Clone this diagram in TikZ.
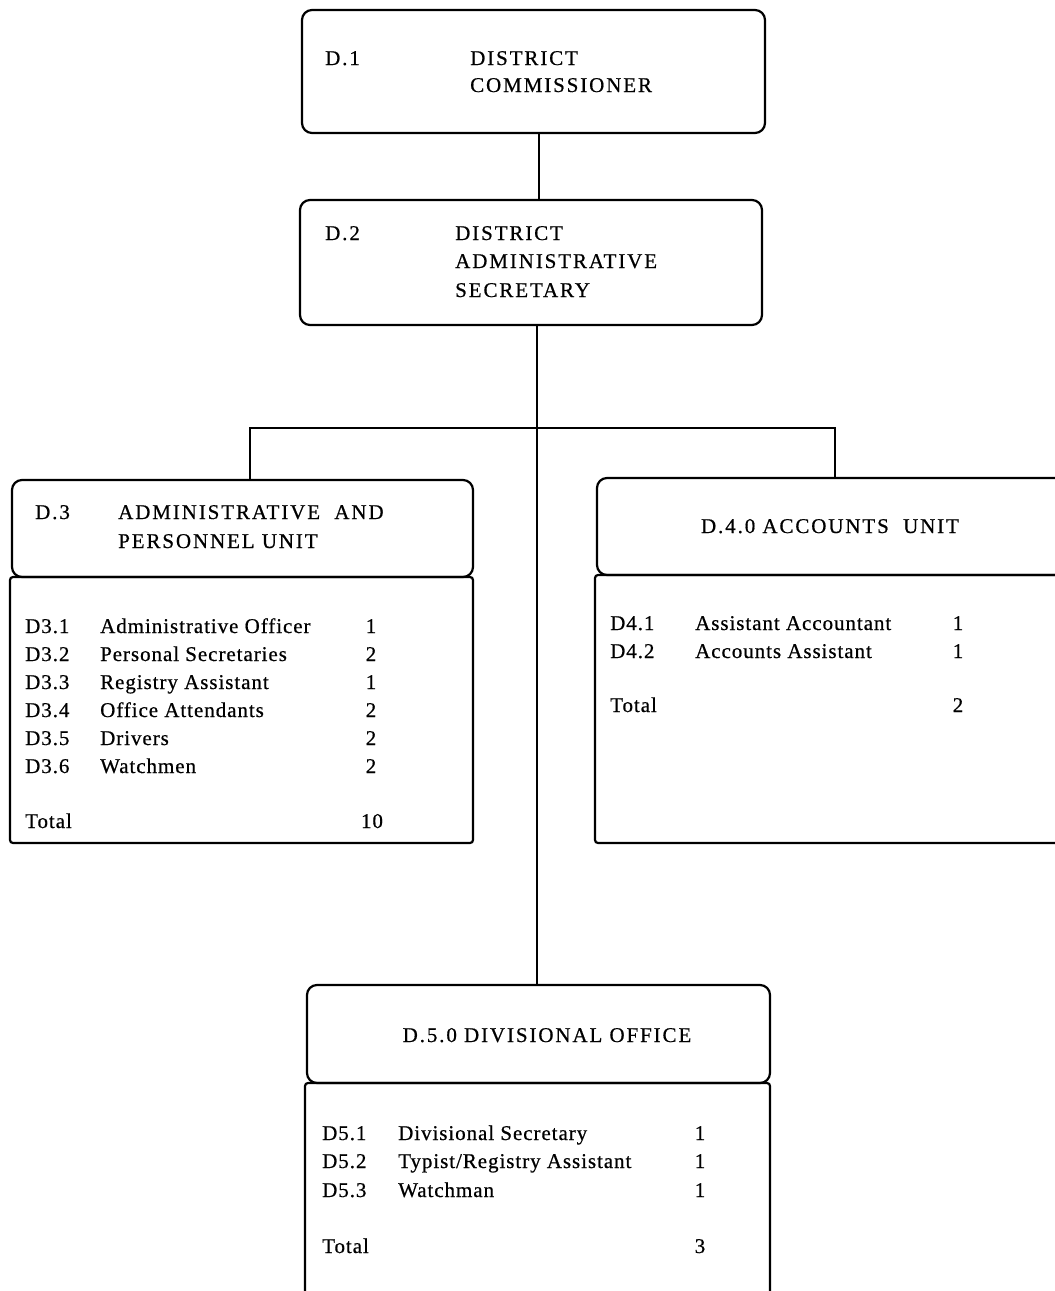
\documentclass[tikz,border=0pt]{standalone}
\usepackage{fontspec}
\setmainfont{Liberation Serif}
\newfontfamily\hdfont{Liberation Serif}[LetterSpace=9,FakeBold=0.6]
\newfontfamily\bdfont{Liberation Serif}[LetterSpace=4.5,FakeBold=0.6]
\tikzset{
  box/.style={draw, line width=2.2pt, rounded corners=10pt, inner sep=0pt},
  bodybox/.style={draw, line width=2.2pt, rounded corners=3pt, inner sep=0pt},
  conn/.style={line width=1.4pt},
  hd/.style={anchor=base west, inner sep=0pt, font=\hdfont\fontsize{21}{25}\selectfont},
  hdc/.style={anchor=base, inner sep=0pt, font=\hdfont\fontsize{21}{25}\selectfont},
  bd/.style={anchor=base west, inner sep=0pt, font=\bdfont\fontsize{21}{25}\selectfont},
  num/.style={anchor=base, inner sep=0pt, font=\bdfont\fontsize{21}{25}\selectfont}
}
\begin{document}
\begin{tikzpicture}[x=1pt,y=-1pt]
\useasboundingbox (0,0) rectangle (1055,1291);
\clip (0,0) rectangle (1055,1291);
% boxes
\node[box, minimum width=463pt, minimum height=123pt] (d1) at (533.5,71.5) {};
\node[box, minimum width=462pt, minimum height=125pt] (d2) at (531,262.5) {};
\node[box, minimum width=461pt, minimum height=97pt] (d3h) at (242.5,528.5) {};
\node[bodybox, minimum width=463pt, minimum height=266pt] (d3b) at (241.5,710) {};
\node[box, minimum width=478pt, minimum height=97pt] (d4h) at (836,526.5) {};
\node[bodybox, minimum width=480pt, minimum height=268pt] (d4b) at (835,709) {};
\node[box, minimum width=463pt, minimum height=98pt] (d5h) at (538.5,1034) {};
\node[bodybox, minimum width=465pt, minimum height=227pt] (d5b) at (537.5,1196.5) {};
% connectors
\coordinate (xa) at (539,0);
\coordinate (xm) at (537,0);
\coordinate (bl) at (250,428);
\coordinate (br) at (835,428);
\draw[conn] (d1.south -| xa) -- (d2.north -| xa);
\draw[conn] (d2.south -| xm) -- (d5h.north -| xm);
\draw[conn] (d3h.north -| bl) -- (bl) -- (br) -- (d4h.north -| br);
% D1 text
\node[hd] (t1a) at (325,65) {D.1};
\node[hd] (t1b) at (470,65) {DISTRICT};
\node[hd] (t1c) at (470,92) {COMMISSIONER};
% D2 text
\node[hd] (t2a) at (325,240) {D.2};
\node[hd] (t2b) at (455,240) {DISTRICT};
\node[hd] (t2c) at (455,268) {ADMINISTRATIVE};
\node[hd] (t2d) at (455,297) {SECRETARY};
% D3 header
\node[hd] (t3a) at (35,519) {D.3};
\node[hd] (t3b) at (118,519) {ADMINISTRATIVE\ \ AND};
\node[hd] (t3c) at (118,548) {PERSONNEL UNIT};
% D3 body
\foreach \c/\n/\v/\y [count=\i] in {D3.1/Administrative Officer/1/633, D3.2/Personal Secretaries/2/661, D3.3/Registry Assistant/1/689, D3.4/Office Attendants/2/717, D3.5/Drivers/2/745, D3.6/Watchmen/2/773}{
  \node[bd] (c3\i) at (25,\y) {\c};
  \node[bd] (n3\i) at (100,\y) {\n};
  \node[num] (v3\i) at (371,\y) {\v};
}
\node[bd] (t3tot) at (25,828) {Total};
\node[num] (t3totv) at (372,828) {10};
% D4
\node[hdc] (t4) at (830,533) {D.4.0 ACCOUNTS\ \ UNIT};
\node[bd] (c41) at (610,630) {D4.1};
\node[bd] (n41) at (695,630) {Assistant Accountant};
\node[num] (v41) at (958,630) {1};
\node[bd] (c42) at (610,658) {D4.2};
\node[bd] (n42) at (695,658) {Accounts Assistant};
\node[num] (v42) at (958,658) {1};
\node[bd] (t4tot) at (610,712) {Total};
\node[num] (t4totv) at (958,712) {2};
% D5
\node[hdc] (t5) at (547,1042) {D.5.0 DIVISIONAL OFFICE};
\node[bd] (c51) at (322,1140) {D5.1};
\node[bd] (n51) at (398,1140) {Divisional Secretary};
\node[num] (v51) at (700,1140) {1};
\node[bd] (c52) at (322,1168) {D5.2};
\node[bd] (n52) at (398,1168) {Typist/Registry Assistant};
\node[num] (v52) at (700,1168) {1};
\node[bd] (c53) at (322,1197) {D5.3};
\node[bd] (n53) at (398,1197) {Watchman};
\node[num] (v53) at (700,1197) {1};
\node[bd] (t5tot) at (322,1253) {Total};
\node[num] (t5totv) at (700,1253) {3};
\end{tikzpicture}
\end{document}
